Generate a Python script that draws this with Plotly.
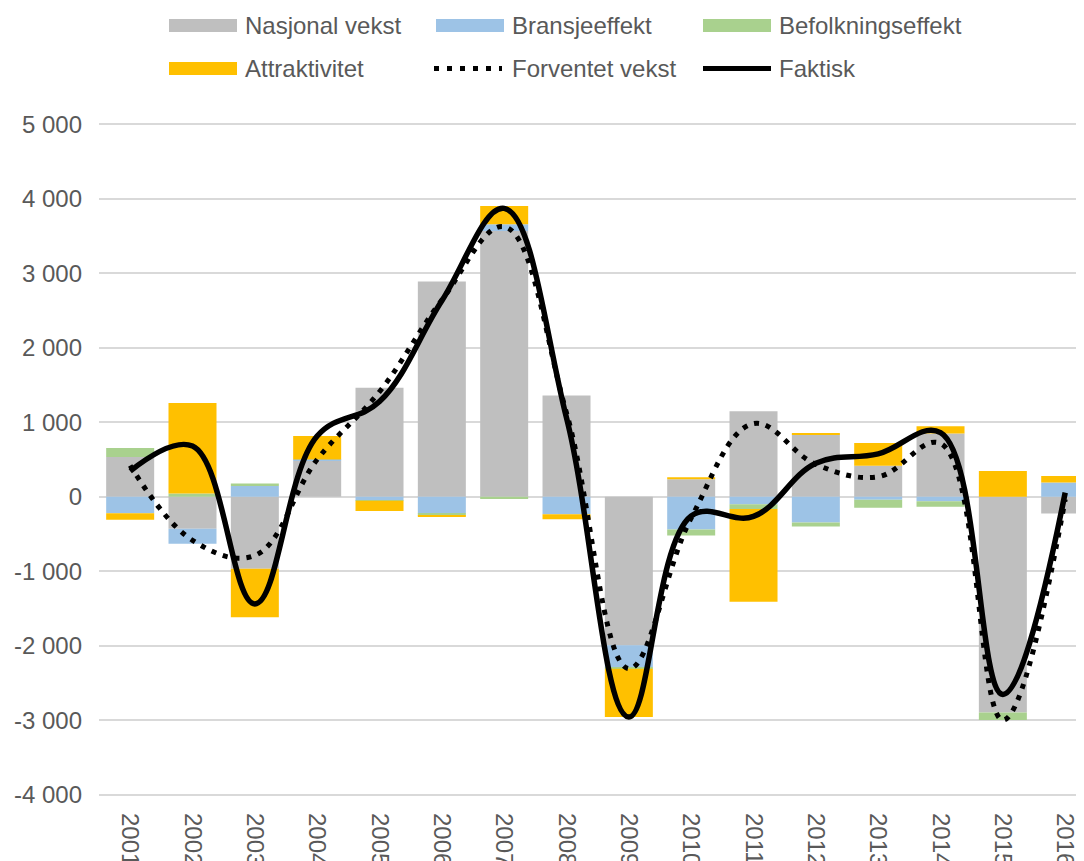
import plotly.graph_objects as go

years = [str(y) for y in range(2001, 2017)]
nasjonal = [535, -430, -967, 481, 1462, 2890, 3566, 1360, -1993, 235, 1146, 835, 415, 849, -2897, -225]
bransje = [-220, -200, 143, 20, -50, -225, 90, -235, -294, -440, -100, -347, -40, -62, 0, 190]
befolkning = [120, 45, 36, 0, -5, -25, -30, 0, -20, -80, -65, -53, -107, -71, -100, 0]
attraktivitet = [-90, 1212, -650, 315, -135, -10, 245, -67, -650, 27, -1245, 14, 307, 96, 344, 90]
forventet = [420, -585, -788, 500, 1410, 2640, 3626, 1125, -2307, -285, 981, 435, 268, 716, -2997, -35]
faktisk = [345, 680, -1438, 815, 1277, 2630, 3871, 1058, -2957, -258, -264, 449, 575, 860, -2653, 55]

ytickvals = [5000, 4000, 3000, 2000, 1000, 0, -1000, -2000, -3000, -4000]
yticktext = ["5 000", "4 000", "3 000", "2 000", "1 000", "0", "-1 000", "-2 000", "-3 000", "-4 000"]

legend_names = ["Nasjonal vekst", "Bransjeeffekt", "Befolkningseffekt",
                "Attraktivitet", "Forventet vekst", "Faktisk"]
colors = {"Nasjonal vekst": "#BFBFBF", "Bransjeeffekt": "#9DC3E6",
          "Befolkningseffekt": "#A9D18E", "Attraktivitet": "#FFC000"}

FONT = "Liberation Sans, Arial, sans-serif"
TXT = "#595959"

fig = go.Figure()
for name, vals in [("Nasjonal vekst", nasjonal), ("Bransjeeffekt", bransje),
                   ("Befolkningseffekt", befolkning), ("Attraktivitet", attraktivitet)]:
    fig.add_trace(go.Bar(x=years, y=vals, name=name, marker_color=colors[name],
                         marker_line_width=0, showlegend=False))

fig.add_trace(go.Scatter(x=years, y=forventet, name="Forventet vekst", mode="lines",
                         line=dict(color="black", width=5, dash="5px,7px", shape="spline", smoothing=1.1),
                         showlegend=False))
fig.add_trace(go.Scatter(x=years, y=faktisk, name="Faktisk", mode="lines",
                         line=dict(color="black", width=5.5, shape="spline", smoothing=1.1),
                         showlegend=False))

# plot area geometry in figure pixels (page has an 8px body margin)
L, R, T, B = 91, 1084, 114, 789
W, H = 1084, 861


def px(x):
    return (x - L) / (R - L)


def py(y):
    return (B - y) / (B - T)


shapes = []
annotations = []
cols = [161, 428, 695]
rows = [17.5, 60.5]
for i, name in enumerate(legend_names):
    c = cols[i % 3]
    r = rows[i // 3]
    if name in colors:
        shapes.append(dict(type="rect", xref="paper", yref="paper",
                           x0=px(c), x1=px(c + 68), y0=py(r - 6.5), y1=py(r + 6.5),
                           fillcolor=colors[name], line=dict(width=0)))
    elif name == "Forventet vekst":
        shapes.append(dict(type="line", xref="paper", yref="paper",
                           x0=px(c - 2), x1=px(c + 66), y0=py(r), y1=py(r),
                           line=dict(color="black", width=5, dash="5px,8px")))
    else:
        shapes.append(dict(type="line", xref="paper", yref="paper",
                           x0=px(c), x1=px(c + 68), y0=py(r), y1=py(r),
                           line=dict(color="black", width=5)))
    annotations.append(dict(text=name, xref="paper", yref="paper", x=px(c + 74), y=py(r),
                            xanchor="left", yanchor="middle", showarrow=False,
                            font=dict(family=FONT, size=24, color=TXT)))

fig.update_layout(
    width=W, height=H,
    margin=dict(l=L, r=W - R, t=T, b=H - B, pad=0),
    paper_bgcolor="white", plot_bgcolor="white",
    barmode="relative", bargap=0.23,
    font=dict(family=FONT, size=24, color=TXT),
    shapes=shapes, annotations=annotations,
    showlegend=False,
)
fig.update_xaxes(type="category", range=[-0.5, 15.43], tickangle=90, showgrid=False,
                 showline=False, zeroline=False, ticks="", ticklabelstandoff=15,
                 tickfont=dict(family=FONT, size=24, color=TXT))
fig.update_yaxes(range=[-4030, 5030], tickvals=ytickvals, ticktext=yticktext,
                 showgrid=True, gridcolor="#D9D9D9", gridwidth=1.5, zeroline=False,
                 showline=False, ticks="", ticklabelstandoff=16,
                 tickfont=dict(family=FONT, size=24, color=TXT))

fig.write_html("out.html")
